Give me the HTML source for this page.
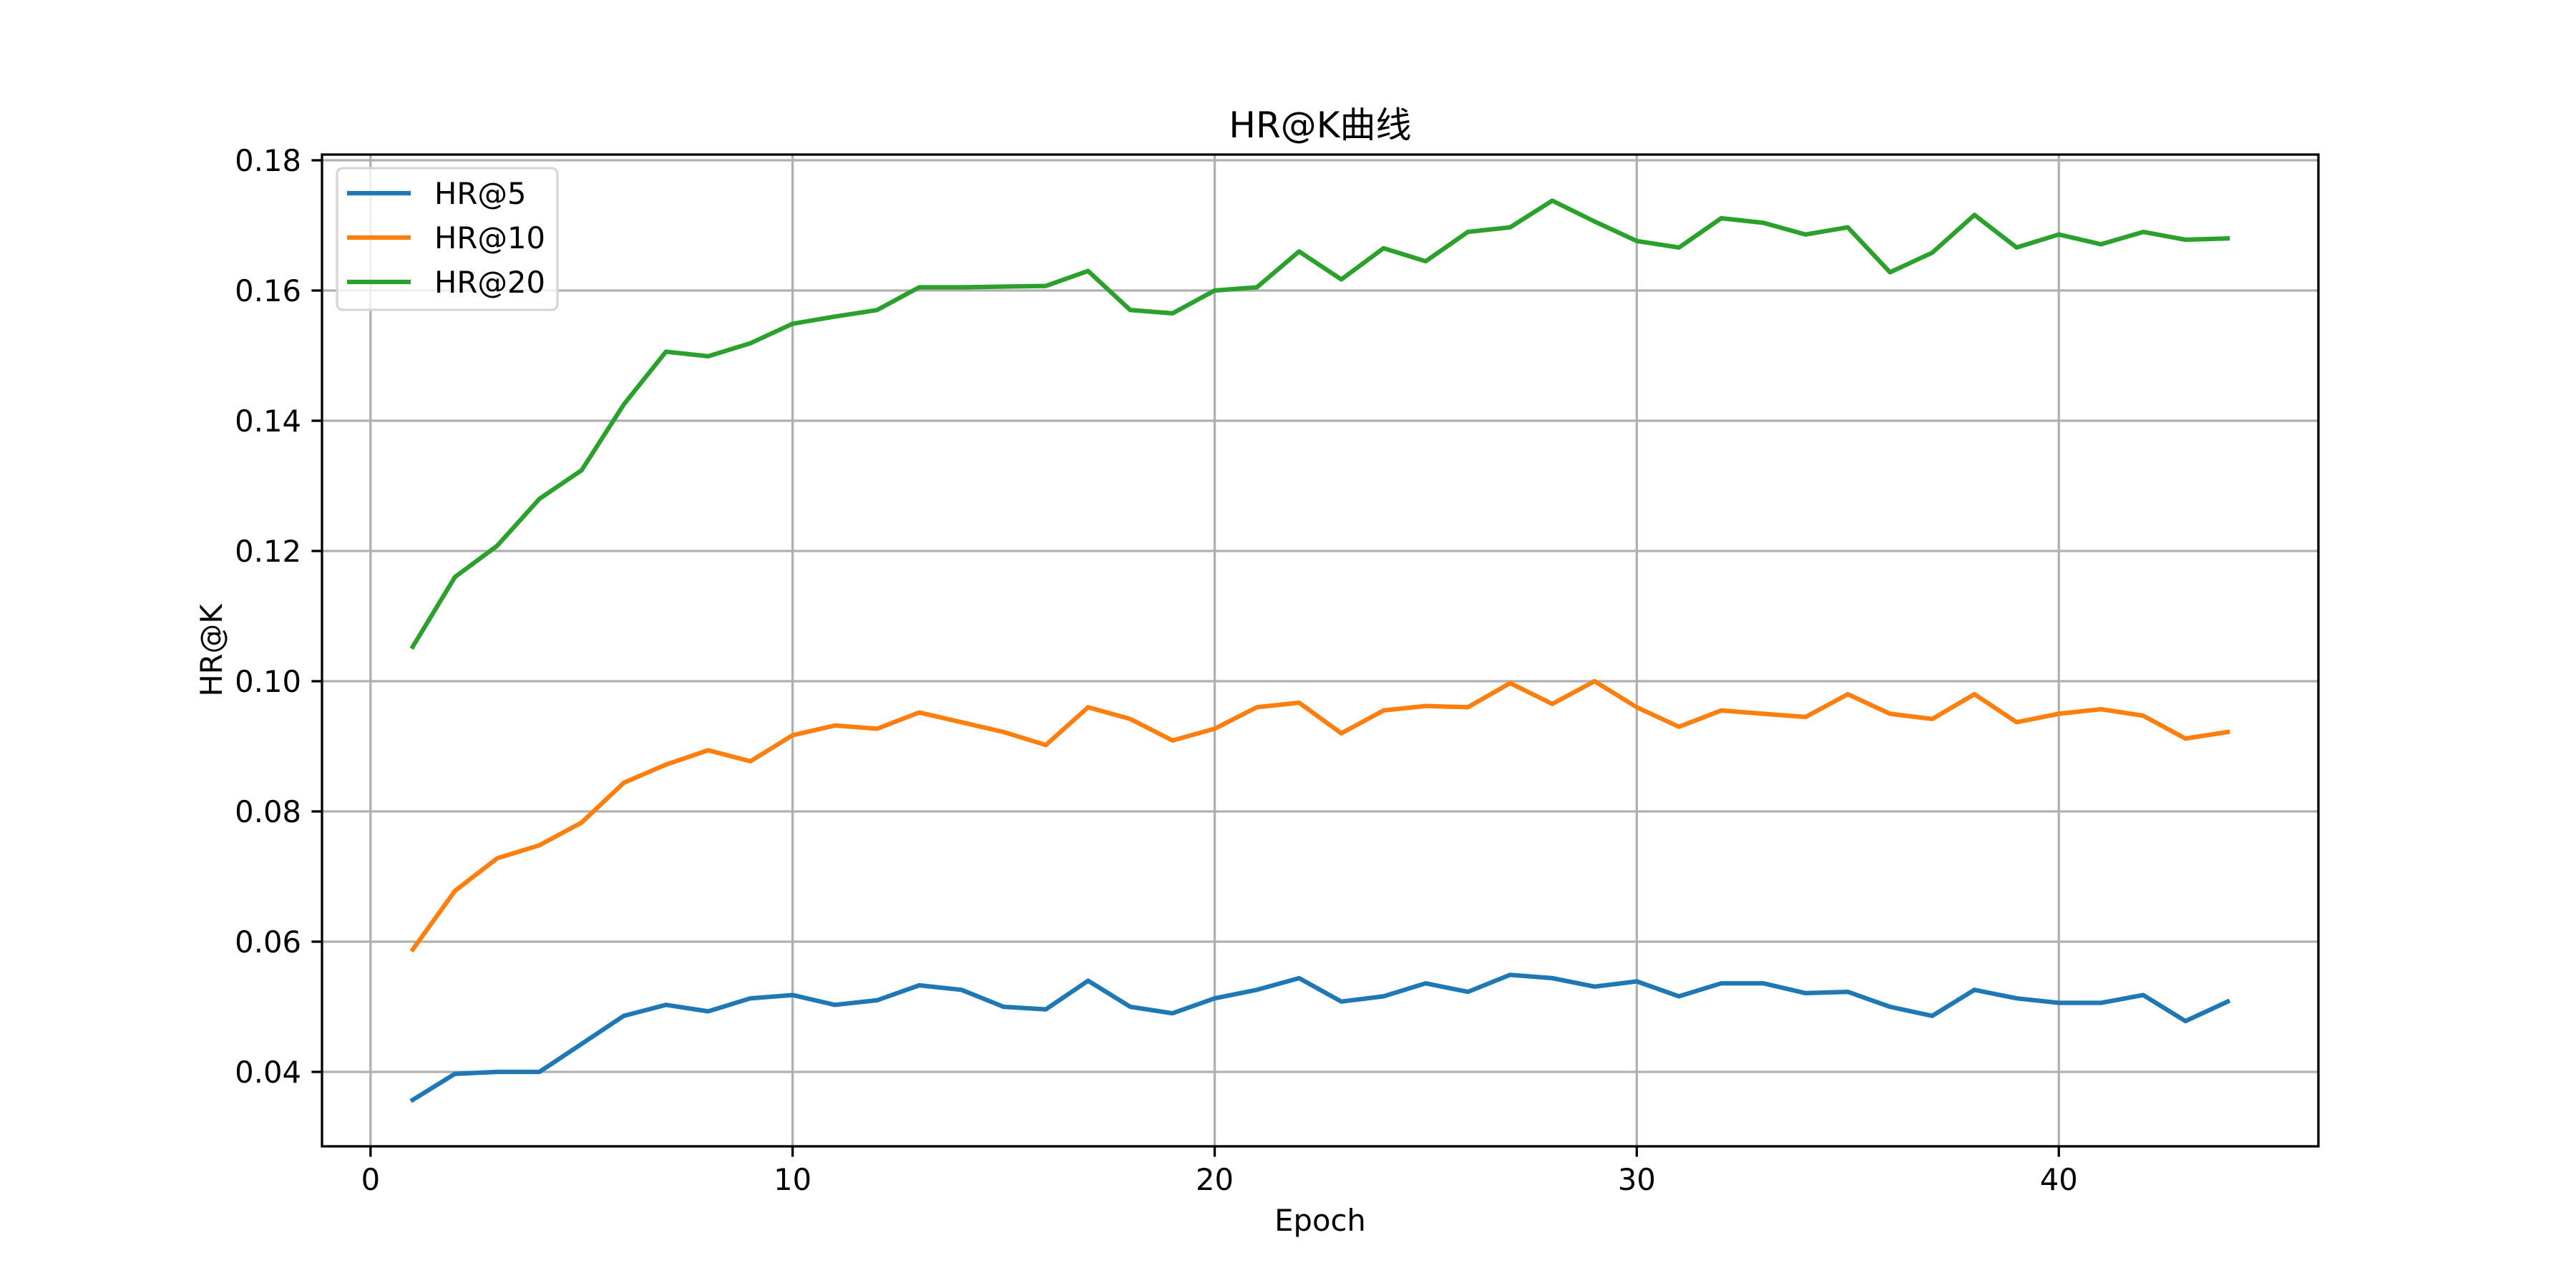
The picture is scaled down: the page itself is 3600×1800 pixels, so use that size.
<!DOCTYPE html>
<html><head><meta charset="utf-8"><style>
html,body{margin:0;padding:0;background:#fff;}
svg{display:block;font-family:"DejaVu Sans","Liberation Sans","Noto Sans CJK SC",sans-serif;}
</style></head><body>
<svg id="chart" width="3600" height="1800" viewBox="0 0 3600 1800" xmlns="http://www.w3.org/2000/svg">
<rect x="0" y="0" width="3600" height="1800" fill="#fff"/>
<g id="grid"></g>
<g id="series"></g>
<rect x="450" y="216" width="2790" height="1386" fill="none" stroke="#000" stroke-width="3.3"/>
<g id="ticks"></g>
<text x="1845" y="192" font-size="50" text-anchor="middle">HR@K曲线</text>
<text x="1845" y="1720" font-size="41.7" text-anchor="middle">Epoch</text>
<text x="310" y="909" font-size="41.7" text-anchor="middle" transform="rotate(-90 310 909)">HR@K</text>
<g id="legend"></g>
</svg>
<script>
const epochs = [1,2,3,4,5,6,7,8,9,10,11,12,13,14,15,16,17,18,19,20,21,22,23,24,25,26,27,28,29,30,31,32,33,34,35,36,37,38,39,40,41,42,43,44];
const hr5 = [0.0357,0.0397,0.0400,0.0400,0.0443,0.0486,0.0503,0.0493,0.0513,0.0518,0.0503,0.0510,0.0533,0.0526,0.0500,0.0496,0.0540,0.0500,0.0490,0.0513,0.0526,0.0544,0.0508,0.0516,0.0536,0.0523,0.0549,0.0544,0.0531,0.0539,0.0516,0.0536,0.0536,0.0521,0.0523,0.0500,0.0486,0.0526,0.0513,0.0506,0.0506,0.0518,0.0478,0.0508];
const hr10 = [0.0588,0.0678,0.0728,0.0748,0.0783,0.0844,0.0872,0.0894,0.0877,0.0917,0.0932,0.0927,0.0952,0.0937,0.0922,0.0902,0.0960,0.0942,0.0909,0.0927,0.0960,0.0967,0.0920,0.0955,0.0962,0.0960,0.0997,0.0965,0.1000,0.0960,0.0930,0.0955,0.0950,0.0945,0.0980,0.0950,0.0942,0.0980,0.0937,0.0950,0.0957,0.0947,0.0912,0.0922];
const hr20 = [0.1053,0.1160,0.1208,0.1280,0.1324,0.1425,0.1506,0.1499,0.1519,0.1549,0.1560,0.1570,0.1605,0.1605,0.1606,0.1607,0.1630,0.1570,0.1565,0.1600,0.1605,0.1660,0.1617,0.1665,0.1645,0.1690,0.1697,0.1738,0.1706,0.1676,0.1666,0.1711,0.1704,0.1686,0.1697,0.1628,0.1658,0.1716,0.1666,0.1686,0.1671,0.1690,0.1678,0.1680];
const seriesNames = ["HR@5","HR@10","HR@20"];
const xTicks = [0,10,20,30,40];
const yTicks = [0.04,0.06,0.08,0.10,0.12,0.14,0.16,0.18];
const yTickLabels = ["0.04","0.06","0.08","0.10","0.12","0.14","0.16","0.18"];

const NS = "http://www.w3.org/2000/svg";
const L=450,R=3240,T=216,B=1602;
const xMin=-1.15,xMax=46.15,yMin=0.02857,yMax=0.18088;
const xs=v=>L+(v-xMin)/(xMax-xMin)*(R-L);
const ys=v=>B-(v-yMin)/(yMax-yMin)*(B-T);
function mk(tag,attrs,parent){const e=document.createElementNS(NS,tag);for(const k in attrs)e.setAttribute(k,attrs[k]);parent.appendChild(e);return e;}
const grid=document.getElementById('grid'),ticks=document.getElementById('ticks'),ser=document.getElementById('series'),leg=document.getElementById('legend');
xTicks.forEach(t=>{
  const x=xs(t);
  const g=mk('line',{x1:x,x2:x,y1:T,y2:B,stroke:'#b0b0b0','stroke-width':3.3},grid);
  
  
  const tk=mk('line',{x1:x,x2:x,y1:B,y2:B+14.6,stroke:'#000','stroke-width':3.3},ticks);
  
  
  const tx=mk('text',{x:x,y:B+61,'font-size':41.7,'text-anchor':'middle'},ticks);
  tx.textContent=String(t);
  
  
});
yTicks.forEach((t,i)=>{
  const y=ys(t);
  const g=mk('line',{x1:L,x2:R,y1:y,y2:y,stroke:'#b0b0b0','stroke-width':3.3},grid);
  
  
  const tk=mk('line',{x1:L-14.6,x2:L,y1:y,y2:y,stroke:'#000','stroke-width':3.3},ticks);
  
  
  const tx=mk('text',{x:L-29,y:y+15,'font-size':41.7,'text-anchor':'end'},ticks);
  tx.textContent=yTickLabels[i];
  
  
});
const colors=['#1f77b4','#ff7f0e','#2ca02c'];
[hr5,hr10,hr20].forEach((d,si)=>{
  const pts=d.map((v,i)=>xs(epochs[i]).toFixed(1)+','+ys(v).toFixed(1)).join(' ');
  const p=mk('polyline',{points:pts,fill:'none',stroke:colors[si],'stroke-width':6.25,'stroke-linejoin':'round','stroke-linecap':'square'},ser);
  
  
});
const box=mk('rect',{x:471,y:235,width:308,height:198,rx:8,fill:'#fff','fill-opacity':0.8,stroke:'#d6d6d6','stroke-width':3.3},leg);


seriesNames.forEach((n,i)=>{
  const y=270+i*62;
  const ln=mk('line',{x1:485,x2:574,y1:y,y2:y,stroke:colors[i],'stroke-width':6.25},leg);
  
  
  const tx=mk('text',{x:607,y:y+15,'font-size':41.7},leg);
  tx.textContent=n;
  
  
});
</script>
</body></html>
